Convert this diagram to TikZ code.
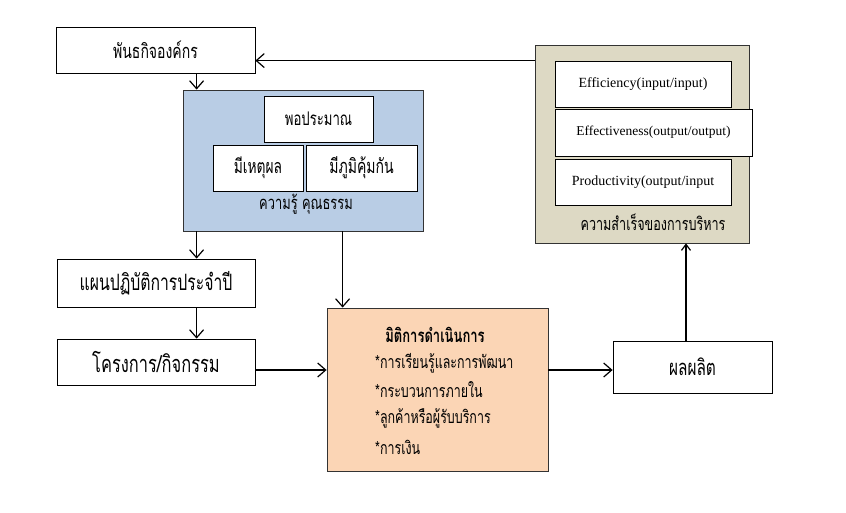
\documentclass[tikz,border=0pt]{standalone}
\usepackage{fontspec}
\setmainfont{Liberation Serif}
\newfontfamily\thai[Script=Thai,FakeStretch=0.7]{Loma}
\usetikzlibrary{arrows.meta,calc}
\definecolor{bluefill}{HTML}{B9CDE5}
\definecolor{beigefill}{HTML}{DDD9C4}
\definecolor{orangefill}{HTML}{FBD5B5}
\tikzset{
  box/.style={draw=black, line width=0.8pt, fill=white, inner sep=0pt, align=center},
  panel/.style={draw=black!80, line width=0.8pt, inner sep=0pt},
  thfs/.style={font=\thai\fontsize{#1}{#1}\selectfont},
  thbf/.style={font=\thai\bfseries\fontsize{#1}{#1}\selectfont},
  engtext/.style={font=\fontsize{#1}{#1}\selectfont},
  arr/.style={line width=1.2pt, -{Straight Barb[length=8pt,width=14pt,line width=1.2pt]}},
}
\begin{document}
\begin{tikzpicture}[x=1pt,y=-1pt]
\useasboundingbox (0,0) rectangle (846,513);
% top-left
\node[box, thfs=20, minimum width=199pt, minimum height=46pt] (mission) at (155.5,50) {พันธกิจองค์กร};
% blue panel
\node[panel, fill=bluefill, minimum width=240pt, minimum height=141pt] (blue) at (303,160.5) {};
\node[box, thfs=18.8, minimum width=109pt, minimum height=46pt] (por) at (318.5,119) {พอประมาณ};
\node[box, thfs=19.7, minimum width=90pt, minimum height=46pt] (het) at (258,168) {มีเหตุผล};
\node[box, thfs=20, minimum width=111pt, minimum height=46pt] (phum) at (361.5,168) {มีภูมิคุ้มกัน};
\node[thfs=18.4, inner sep=0pt] (bluelabel) at (306,204) {ความรู้ คุณธรรม};
% beige panel
\node[panel, fill=beigefill, minimum width=214pt, minimum height=198pt] (beige) at (642,144) {};
\node[box, engtext=14, minimum width=176pt, minimum height=46pt] (eff) at (643,84) {Efficiency(input/input)};
\node[box, engtext=13.5, minimum width=197pt, minimum height=47pt] (effv) at (653.5,132.5) {Effectiveness(output/output)};
\node[box, engtext=14, minimum width=176pt, minimum height=46pt] (prod) at (643,182) {Productivity(output/input};
\node[thfs=18, inner sep=0pt] (beigelabel) at (653,222) {ความสำเร็จของการบริหาร};
% left column
\node[box, thfs=22.5, minimum width=198pt, minimum height=48pt] (plan) at (156,283) {แผนปฏิบัติการประจำปี};
\node[box, thfs=23.5, minimum width=198pt, minimum height=46pt] (proj) at (156,362) {โครงการ/กิจกรรม};
% orange
\node[panel, fill=orangefill, minimum width=221pt, minimum height=163pt] (orange) at (437.5,389.5) {};
\node[thbf=18.6, inner sep=0pt] (otitle) at (435,335) {มิติการดำเนินการ};
\node[thfs=17.8, anchor=west, inner sep=0pt] (o1) at (375,363) {*การเรียนรู้และการพัฒนา};
\node[thfs=17.8, anchor=west, inner sep=0pt] (o2) at (375,390) {*กระบวนการภายใน};
\node[thfs=17.8, anchor=west, inner sep=0pt] (o3) at (375,418) {*ลูกค้าหรือผู้รับบริการ};
\node[thfs=17.8, anchor=west, inner sep=0pt] (o4) at (375,447) {*การเงิน};
% output
\node[box, thfs=22, minimum width=159pt, minimum height=52pt] (output) at (692.5,367) {ผลผลิต};
% connectors
\draw[arr] ([yshift=-16pt]beige.north west) -- ([yshift=-16pt]beige.north west -| mission.east);
\draw[arr] ([xshift=14pt]blue.north west |- mission.south) -- ([xshift=14pt]blue.north west);
\draw[arr] ([xshift=14pt]blue.south west) -- ([xshift=14pt]blue.south west |- plan.north);
\draw[arr] ([xshift=14pt]blue.south west |- plan.south) -- ([xshift=14pt]blue.south west |- proj.north);
\draw[arr] ([xshift=16pt]orange.north west |- blue.south) -- ([xshift=16pt]orange.north west);
\draw[arr] ([yshift=-8pt]proj.east) -- ([yshift=-8pt]proj.east -| orange.west);
\draw[arr] ([yshift=-3pt]output.west -| orange.east) -- ([yshift=-3pt]output.west);
\draw[line width=1.2pt, -{Straight Barb[length=6pt,width=9pt,line width=1.2pt]}] ([xshift=-6.5pt]output.north) -- ([xshift=-6.5pt]output.north |- beige.south);
\end{tikzpicture}
\end{document}
